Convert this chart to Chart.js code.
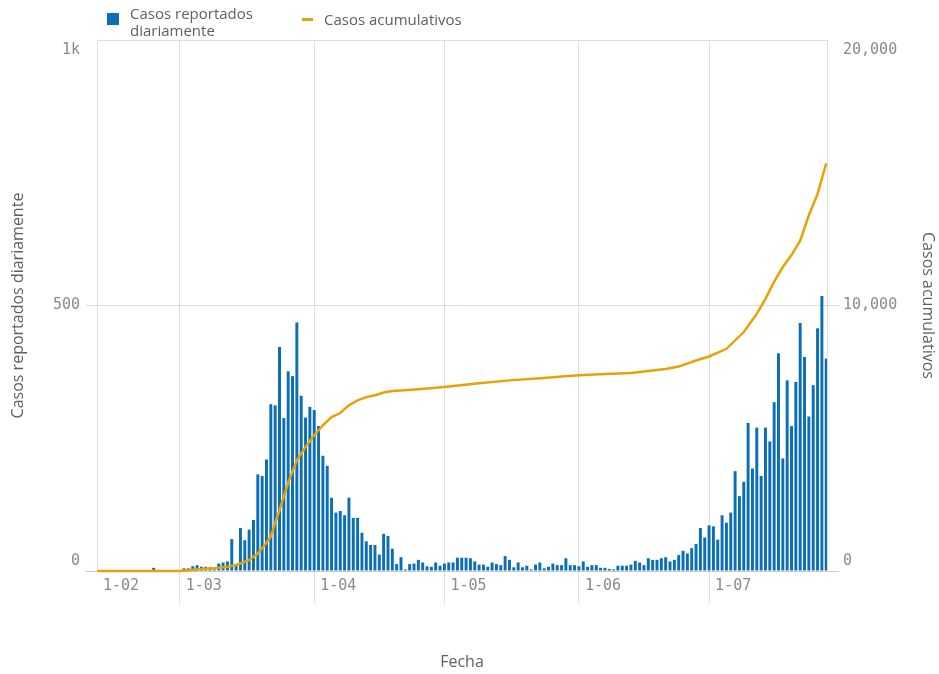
<!DOCTYPE html>
<html>
<head>
<meta charset="utf-8">
<script src="https://cdn.jsdelivr.net/npm/chart.js@4.4.1/dist/chart.umd.min.js"></script>
<style>
  html, body { margin: 0; padding: 0; background: #ffffff; }
  #wrap { position: relative; width: 939px; height: 674px; }
  #legend { position: absolute; left: 0; top: 0; font-family: 'Open Sans', sans-serif; font-size: 15px; color: #5f5f5f; line-height: 17px; }
  .lg-item { position: absolute; white-space: nowrap; }
  .lg-sym { position: absolute; }
</style>
</head>
<body>
<div id="wrap">
  <canvas id="c" width="939" height="674"></canvas>
  <div id="legend"></div>
</div>
<script>
// ---- Daily reported cases (bars), one value per day ----
// 11 Feb – 29 Feb
const FEB_DAILY = [0, 0, 0, 0, 0, 0, 0, 0, 0, 0, 0, 0, 0, 6, 0, 0, 0, 0, 0];
// 1 Mar – 31 Mar
const MAR_DAILY = [0, 5, 5, 9, 11, 8, 8, 7, 3, 14, 16, 18, 60, 10, 81, 58, 78, 96, 182, 179,
                   210, 314, 312, 422, 288, 376, 367, 468, 330, 289, 309];
// 1 Apr – 30 Apr
const APR_DAILY = [303, 273, 217, 198, 138, 110, 113, 105, 138, 100, 100, 72, 56, 49, 49, 31,
                   70, 66, 42, 13, 26, 3, 13, 14, 21, 16, 9, 8, 16, 10];
// 1 May – 31 May
const MAY_DAILY = [14, 16, 16, 25, 25, 25, 24, 18, 12, 12, 8, 16, 13, 11, 28, 21, 7, 16, 7, 10,
                   3, 12, 16, 5, 8, 14, 11, 11, 24, 11, 11];
// 1 Jun – 30 Jun
const JUN_DAILY = [9, 18, 8, 11, 11, 6, 6, 4, 3, 10, 10, 10, 12, 19, 16, 11, 24, 21, 21, 24,
                   26, 18, 21, 30, 38, 33, 43, 51, 81, 63];
// 1 Jul – 28 Jul
const JUL_DAILY = [86, 84, 59, 105, 91, 110, 188, 141, 168, 279, 193, 270, 179, 270, 244, 318,
                   410, 212, 359, 273, 356, 467, 403, 291, 350, 457, 518, 400];

// ---- Cumulative cases (line), read at days counted from 1 March ----
const CUM_DAYS   = [-19, 0, 4, 8, 11, 13, 16, 18, 20, 21, 23, 25, 27, 29, 31, 33, 35, 37, 39, 41,
                    43, 45, 47, 49, 51, 55, 59, 62, 69, 76, 83, 92, 98, 104, 108, 112, 115, 119,
                    122, 126, 130, 133, 135, 137, 139, 141, 143, 145, 147, 149];
const CUM_VALUES = [0, 0, 60, 100, 160, 225, 410, 660, 1060, 1300, 2290, 3320, 4170, 4670, 5110,
                    5490, 5800, 5950, 6240, 6430, 6550, 6620, 6720, 6780, 6800, 6850, 6900, 6950,
                    7070, 7180, 7260, 7370, 7420, 7455, 7530, 7610, 7700, 7930, 8080, 8370, 9000,
                    9690, 10250, 10900, 11450, 11900, 12440, 13400, 14200, 15350];

// ---- Axis ----
const FIRST_DAY = -19;              // first daily value = 11 Feb (day 0 = 1 Mar)
const X_MIN = -19.06;
const X_MAX = 149.18;
const TICK_DAYS   = [X_MIN, 0, 31, 61, 92, 122];
const TICK_LABELS = ['1-02', '1-03', '1-04', '1-05', '1-06', '1-07'];

const SERIES_DAILY = 'Casos reportados diariamente';
const SERIES_CUM   = 'Casos acumulativos';
const TITLE_X = 'Fecha';

const BLUE = '#0b6fb5';
const ORANGE = '#e8a205';
const GRID = '#dedede';
const TICK_TEXT = '#8a8a8a';
const TITLE_TEXT = '#5f5f5f';

const daily = [].concat(FEB_DAILY, MAR_DAILY, APR_DAILY, MAY_DAILY, JUN_DAILY, JUL_DAILY);
const dailyPoints = daily.map((v, i) => ({ x: FIRST_DAY + i, y: v }));
const cumPoints = CUM_DAYS.map((d, i) => ({ x: d, y: CUM_VALUES[i] }));

const tickFont = { family: 'DejaVu Sans Mono', size: 15 };
const titleFont = { family: 'Open Sans', size: 16 };

// Move the extreme y labels inside the plot edges, as in the original
const edgeLabels = {
  id: 'edgeLabels',
  beforeDraw(chart) {
    const ca = chart.chartArea;
    ['y', 'y2'].forEach(id => {
      const s = chart.scales[id];
      const items = s.getLabelItems();
      items.forEach(it => {
        if (it._moved) return;
        const t = it.options.translation;
        if (Math.abs(t[1] - ca.top) < 1.5) t[1] += 10;
        else if (Math.abs(t[1] - ca.bottom) < 1.5) t[1] -= 10;
        it._moved = true;
      });
    });
  }
};

const chart = new Chart(document.getElementById('c'), {
  type: 'bar',
  data: {
    datasets: [
      {
        type: 'line', label: SERIES_CUM, data: cumPoints, yAxisID: 'y2', xAxisID: 'x',
        borderColor: ORANGE, backgroundColor: ORANGE, borderWidth: 2.5,
        pointRadius: 0, tension: 0, order: 0, clip: 4
      },
      {
        type: 'bar', label: SERIES_DAILY, data: dailyPoints, yAxisID: 'y', xAxisID: 'x',
        backgroundColor: BLUE, borderWidth: 0,
        barPercentage: 0.68, categoryPercentage: 1, order: 1
      }
    ]
  },
  options: {
    responsive: false,
    animation: false,
    devicePixelRatio: 1,
    layout: { padding: { top: 40, left: 0, right: 0, bottom: 0 } },
    plugins: { legend: { display: false }, tooltip: { enabled: false } },
    scales: {
      x: {
        type: 'linear', min: X_MIN, max: X_MAX, offset: false,
        afterBuildTicks: s => { s.ticks = TICK_DAYS.map(v => ({ value: v })); },
        afterFit: s => { s.height = 103; },
        ticks: {
          autoSkip: false, maxRotation: 0, minRotation: 0,
          align: 'start', labelOffset: 6, padding: -26,
          callback: (v, i) => TICK_LABELS[i],
          font: tickFont, color: TICK_TEXT
        },
        grid: {
          offset: false,
          color: c => c.index === 0 ? 'rgba(0,0,0,0)' : GRID,
          tickColor: c => c.index === 0 ? 'rgba(0,0,0,0)' : GRID,
          tickLength: 32, lineWidth: 1
        },
        border: { display: true, color: '#c9c9c9', width: 1 },
        title: { display: true, text: TITLE_X, font: titleFont, color: TITLE_TEXT, padding: { top: 4, bottom: 2.4 } }
      },
      y: {
        position: 'left', min: 0, max: 1000,
        afterFit: s => { s.width = 97; },
        ticks: {
          stepSize: 500, padding: 6,
          callback: v => v >= 1000 ? (v / 1000) + 'k' : String(v),
          font: tickFont, color: TICK_TEXT
        },
        grid: {
          color: c => c.tick && c.tick.value === 0 ? 'rgba(0,0,0,0)' : GRID,
          tickColor: c => c.tick && c.tick.value === 1000 ? 'rgba(0,0,0,0)' : (c.tick && c.tick.value === 0 ? '#c9c9c9' : GRID),
          tickLength: 11
        },
        border: { display: true, color: GRID, width: 1 },
        title: { display: true, text: SERIES_DAILY, font: titleFont, color: TITLE_TEXT, padding: { top: 8.4, bottom: 0 } }
      },
      y2: {
        position: 'right', min: 0, max: 20000,
        afterFit: s => { s.width = 112; },
        ticks: {
          stepSize: 10000, padding: 4,
          callback: v => Number(v).toLocaleString('en-US'),
          font: tickFont, color: TICK_TEXT
        },
        grid: {
          drawOnChartArea: false, tickLength: 12,
          tickColor: c => c.tick && c.tick.value === 20000 ? 'rgba(0,0,0,0)' : (c.tick && c.tick.value === 0 ? '#c9c9c9' : GRID)
        },
        border: { display: true, color: GRID, width: 1 },
        title: { display: true, text: SERIES_CUM, font: titleFont, color: TITLE_TEXT, padding: { top: 1.4, bottom: 0 } }
      }
    }
  },
  plugins: [edgeLabels]
});

// HTML legend built from the chart's datasets
(function buildLegend() {
  const lg = document.getElementById('legend');
  const ds = chart.data.datasets;
  const bar = ds.find(d => d.type === 'bar');
  const line = ds.find(d => d.type === 'line');
  const words = bar.label.split(' ');
  const barText = words.slice(0, 2).join(' ') + '<br>' + words.slice(2).join(' ');
  lg.innerHTML =
    '<div class="lg-sym" style="left:107px;top:13px;width:12px;height:12px;background:' + bar.backgroundColor + '"></div>' +
    '<div class="lg-item" style="left:130px;top:5px;">' + barText + '</div>' +
    '<div class="lg-sym" style="left:302px;top:18px;width:11px;height:2.5px;background:' + line.borderColor + '"></div>' +
    '<div class="lg-item" style="left:324px;top:11px;">' + line.label + '</div>';
})();
</script>
</body>
</html>
